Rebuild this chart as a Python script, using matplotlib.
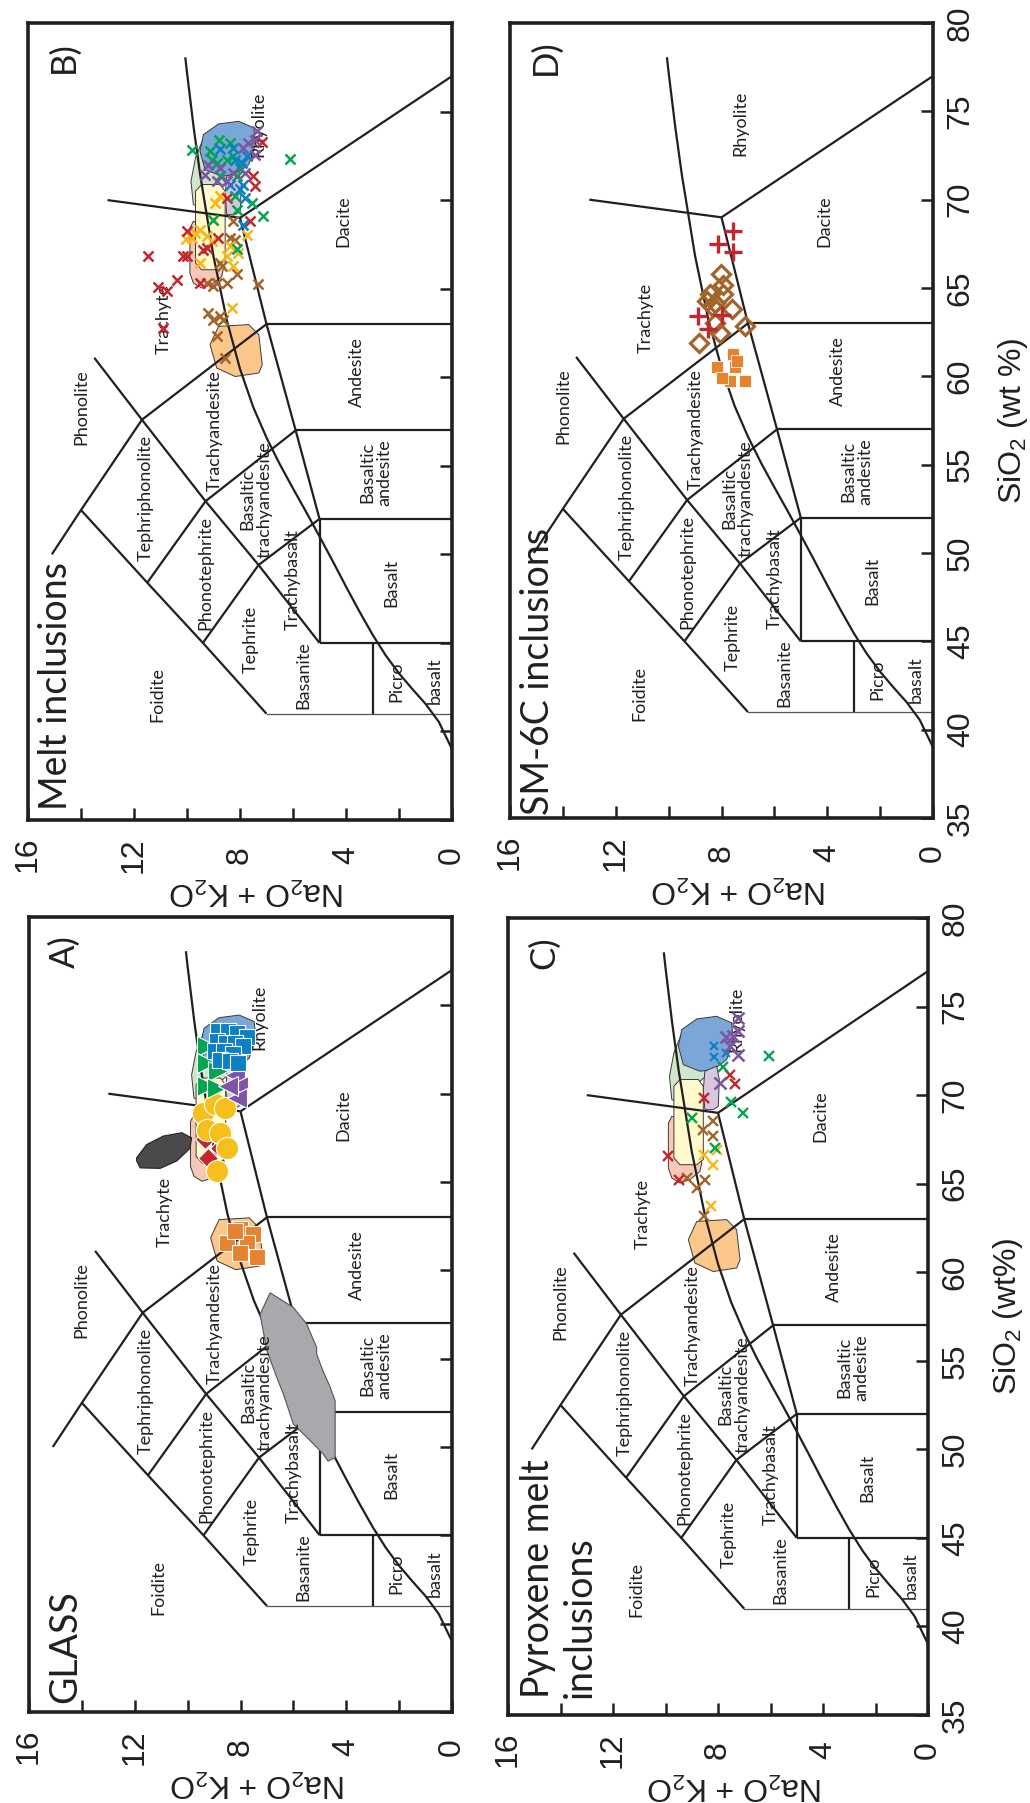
import matplotlib
matplotlib.use("Agg")
import matplotlib.pyplot as plt
from matplotlib import font_manager
from matplotlib.patches import Polygon

# ---------------- fonts ----------------
_names = {f.name for f in font_manager.fontManager.ttflist}
NARROW = "Liberation Sans Narrow" if "Liberation Sans Narrow" in _names else "Liberation Sans"
NARROW_SIZE = 27 if NARROW == "Liberation Sans Narrow" else 23
MAIN = "Lato" if "Lato" in _names else "DejaVu Sans"
plt.rcParams["mathtext.default"] = "regular"

# ---------------- TAS grid (SiO2, Na2O+K2O) ----------------
tas_lines = [
    [(41, 7), (45, 9.4), (48.4, 11.5), (52.5, 14), (50.0, 15.1)],
    [(41, 3), (45, 3)],
    [(45, 0), (45, 5)],
    [(45, 5), (52, 5)],
    [(52, 0), (52, 5)],
    [(52, 5), (57, 5.9), (63, 7), (69, 8)],
    [(57, 0), (57, 5.9)],
    [(63, 0), (63, 7)],
    [(69, 8), (77, 0)],
    [(69, 8), (70, 13)],
    [(45, 5), (49.4, 7.3), (53, 9.3), (57.6, 11.7), (61.1, 13.5)],
    [(49.4, 7.3), (52, 5)],
    [(53, 9.3), (57, 5.9)],
    [(57.6, 11.7), (63, 7)],
    [(52.5, 14), (57.6, 11.7)],
    [(45, 9.4), (49.4, 7.3)],
    [(48.4, 11.5), (53, 9.3)],
]
tas_thin_line = [(41, 0), (41, 7)]
# Irvine & Baragar alkaline / subalkaline divide (SiO2, alkalis)
alkaline_curve = [(39.0, 0), (40.55, 0.5), (41.56, 1), (42.40, 1.5), (43.28, 2), (44.29, 2.5),
                  (45.47, 3), (46.79, 3.5), (48.18, 4), (49.61, 4.5), (51.01, 5), (52.38, 5.5),
                  (53.72, 6), (55.09, 6.5), (56.59, 7), (58.31, 7.5), (60.47, 8), (63.23, 8.5),
                  (66.82, 9), (71.41, 9.5), (74.12, 9.75), (77.2, 10.0), (78.0, 10.06)]

rock_names = ["Foidite", "Picro", "basalt", "Basanite", "Tephrite", "Phonotephrite",
              "Tephriphonolite", "Phonolite", "Trachybasalt", "Basaltic\ntrachyandesite",
              "Trachyandesite", "Trachyte", "Basalt", "Basaltic\nandesite", "Andesite",
              "Dacite", "Rhyolite"]
rock_sio2 = [42.06, 42.8, 42.85, 43.2, 45.2, 48.95, 53.19, 58.3, 48.56, 53.1, 57.0, 63.3,
             48.4, 54.6, 60.3, 68.8, 74.3]
rock_alk = [11.1, 2.1, 0.64, 5.62, 7.58, 9.30, 11.57, 14.0, 6.0, 7.4, 8.96, 10.87,
            2.3, 2.87, 3.58, 4.1, 7.3]

# ---------------- reference fields (SiO2, alkalis) ----------------
field_green = [(73.5, 9.38), (73.7, 8.69), (73.14, 8.3), (71.35, 8.24), (70.78, 8.69), (69.56, 9.45),
               (69.75, 9.76), (71.06, 9.85), (72.38, 9.68)]
field_blue = [(73.7, 9.38), (74.3, 8.81), (74.45, 8.05), (74.08, 7.48), (73.14, 7.42), (72.0, 7.67),
              (71.44, 8.18), (71.35, 8.69), (71.72, 9.32), (72.76, 9.51)]
field_lavender = [(71.35, 8.5), (71.63, 8.05), (70.88, 7.95), (69.37, 7.99), (69.18, 8.18),
                  (69.18, 8.5), (70.31, 8.56)]
field_pink = [(68.8, 9.76), (68.6, 9.2), (66.16, 8.62), (65.69, 8.69), (65.23, 9.07), (65.04, 9.45),
              (65.32, 9.76), (65.88, 9.89), (68.42, 9.89)]
field_yellow = [(70.88, 9.45), (70.88, 8.75), (70.5, 8.56), (66.36, 8.56), (66.07, 8.81),
                (66.07, 9.45), (66.45, 9.68), (70.5, 9.68)]
field_orange = [(62.87, 8.81), (62.97, 7.67), (62.4, 7.29), (60.7, 7.16), (60.24, 7.29),
                (60.04, 8.18), (60.52, 8.88), (61.84, 9.13)]
fields = [(field_green, "#cfe6cd"), (field_blue, "#7ba6d8"), (field_lavender, "#d9c6e1"),
          (field_pink, "#f8c8b7"), (field_yellow, "#fffacc"), (field_orange, "#fbc78b")]

glass_gray_field = [(58.73, 6.88), (57.9, 6.0), (56.97, 5.5), (55.64, 5.12), (55.26, 5.12),
                    (54.3, 4.88), (53.4, 4.61), (52.6, 4.42), (49.4, 4.42), (49.2, 4.69),
                    (49.6, 4.87), (50.37, 5.37), (51.3, 6.0), (53.0, 6.38), (53.94, 6.63),
                    (55.45, 7.0), (57.5, 7.26)]
glass_dark_field = [(66.37, 11.93), (67.12, 11.55), (67.6, 10.92), (67.79, 10.22), (67.5, 9.85),
                    (66.9, 9.91), (66.19, 10.41), (65.77, 11.04), (65.8, 11.8), (66.2, 11.93)]

# ---------------- colours ----------------
RED, YEL, BRN, GRN, BLU, PUR = "#c1272d", "#f7b718", "#a2642a", "#00a651", "#0b80c4", "#7d55a3"
ORG = "#e5832e"

# ---------------- A) GLASS ----------------
A_blue_sio2 = [73.53, 73.57, 73.44, 73.19, 72.97, 72.87, 72.87, 72.68, 72.40, 72.40, 72.25, 71.93, 71.84, 71.74]
A_blue_alk = [8.84, 8.46, 8.14, 7.77, 8.90, 8.55, 8.21, 7.89, 8.96, 8.62, 8.27, 8.77, 8.40, 8.08]
A_green_sio2 = [72.68, 71.74, 71.27, 70.42, 70.33]
A_green_alk = [9.25, 9.25, 8.84, 9.25, 8.90]
A_purple_sio2 = [71.08, 70.42, 69.77, 70.42]
A_purple_alk = [8.21, 8.08, 8.14, 8.46]
A_yellow_sio2 = [68.92, 69.39, 69.2, 67.97, 67.79, 66.94, 65.62]
A_yellow_alk = [9.41, 8.96, 8.6, 9.28, 8.77, 8.52, 8.90]
A_red_sio2 = [66.38, 66.94, 67.41, 67.88]
A_red_alk = [9.22, 8.77, 9.34, 8.96]
A_orange_sio2 = [61.57, 62.33, 62.04, 61.52, 61.0, 60.73, 62.23]
A_orange_alk = [8.52, 8.02, 7.51, 7.77, 8.02, 7.39, 8.21]

# ---------------- B) Melt inclusions ----------------
B_green_sio2 = [72.82, 73.42, 72.76, 72.10, 72.48, 71.82, 71.35, 70.22, 69.84, 69.13, 68.90, 69.43,
                67.24, 72.33, 72.29, 72.29, 71.35, 73.23]
B_green_alk = [9.82, 8.78, 9.13, 8.88, 8.25, 8.00, 8.13, 8.19, 7.56, 7.12, 9.01, 8.10,
               8.13, 6.11, 8.50, 9.07, 8.76, 8.38]
B_blue_sio2 = [72.86, 72.95, 72.48, 72.29, 70.88, 70.60, 70.13, 68.62, 70.88, 72.10]
B_blue_alk = [8.76, 8.25, 7.75, 8.19, 7.87, 8.00, 7.81, 7.87, 8.38, 7.94]
B_purple_sio2 = [73.89, 73.42, 73.23, 72.95, 72.57, 72.01, 71.07, 71.54, 71.82, 71.54, 71.44, 71.07]
B_purple_alk = [7.37, 7.43, 7.69, 7.87, 7.43, 9.19, 8.88, 8.25, 8.76, 7.81, 9.32, 8.50]
B_red_sio2 = [73.27, 71.35, 70.79, 68.81, 70.13, 68.24, 66.87, 66.83, 67.21, 65.51, 65.10, 64.85,
              65.32, 62.78, 67.30, 67.87, 66.83]
B_red_alk = [7.18, 7.50, 7.43, 7.62, 8.50, 10.01, 11.46, 10.01, 9.38, 10.39, 11.08, 10.77,
             9.51, 10.89, 9.26, 8.82, 10.14]
B_yellow_sio2 = [69.81, 68.90, 68.34, 68.15, 67.81, 67.96, 67.68, 67.87, 66.45, 67.40, 66.83, 68.05,
                 66.27, 67.02, 63.91, 70.22]
B_yellow_alk = [8.94, 9.01, 9.51, 9.70, 10.04, 9.26, 9.07, 9.82, 9.51, 8.38, 8.50, 7.75,
                8.25, 8.06, 8.31, 8.76]
B_brown_sio2 = [68.81, 67.87, 67.77, 66.45, 66.27, 65.32, 65.32, 65.14, 65.80, 65.29, 63.63, 63.44,
                63.25, 63.25, 62.31, 61.09, 65.32]
B_brown_alk = [8.25, 8.38, 8.19, 8.76, 8.69, 8.88, 8.50, 9.01, 8.13, 7.31, 9.19, 8.76,
               9.01, 8.63, 8.88, 8.57, 9.26]

# ---------------- C) Pyroxene melt inclusions ----------------
C_purple_sio2 = [74.36, 73.29, 73.36, 73.61, 72.76, 72.29, 70.69]
C_purple_alk = [7.23, 7.70, 7.42, 7.23, 7.54, 7.23, 7.92]
C_blue_sio2 = [72.76, 72.16, 72.35]
C_blue_alk = [8.15, 8.15, 7.70]
C_green_sio2 = [72.19, 71.59, 69.61, 68.99, 68.71, 67.02]
C_green_alk = [6.05, 7.82, 7.52, 7.06, 9.00, 8.11]
C_red_sio2 = [71.16, 70.65, 69.84, 66.58, 65.19]
C_red_alk = [7.54, 7.35, 8.53, 9.89, 9.49]
C_brown_sio2 = [68.56, 68.05, 67.71, 65.32, 65.22, 64.75, 63.15]
C_brown_alk = [8.18, 8.56, 8.18, 9.17, 8.50, 8.81, 8.53]
C_yellow_sio2 = [66.64, 66.92, 66.06, 63.76]
C_yellow_alk = [8.53, 8.03, 8.18, 8.28]

# ---------------- D) SM-6C inclusions ----------------
D_red_sio2 = [68.22, 67.50, 67.05, 63.42, 63.47, 62.66]
D_red_alk = [7.55, 8.12, 7.55, 8.90, 7.99, 8.50]
D_brown_sio2 = [65.77, 65.17, 64.64, 64.17, 64.64, 63.79, 62.47, 63.04, 62.85, 61.91, 63.98, 64.26]
D_brown_alk = [8.02, 7.93, 8.43, 8.25, 7.93, 7.62, 8.06, 8.25, 7.11, 8.85, 8.37, 8.56]
D_orange_sio2 = [61.25, 60.50, 60.50, 59.74, 59.74, 60.87, 59.93]
D_orange_alk = [7.55, 8.18, 7.49, 7.11, 7.68, 7.43, 8.0]

# ---------------- axes ticks ----------------
alk_major = [0, 4, 8, 12, 16]
alk_major_labels = ["0", "4", "8", "12", "16"]
alk_minor = [2, 6, 10, 14]
sio2_ticks = [35, 40, 45, 50, 55, 60, 65, 70, 75, 80]

W, H = 1030, 1803
fig = plt.figure(figsize=(W / 100, H / 100), dpi=100)


def add_ax(l, r, t, b):
    return fig.add_axes([l / W, 1 - b / H, (r - l) / W, (b - t) / H])


def xy(poly):
    return [p[1] for p in poly], [p[0] for p in poly]


def draw_base(ax, show_sio2, with_fields, sio2_label=None):
    ax.set_xlim(16, 0)
    ax.set_ylim(35, 80)
    for s in ax.spines.values():
        s.set_linewidth(2.6)
        s.set_color("#231f20")
        s.set_zorder(10)
    ax.set_xticks(alk_major, labels=alk_major_labels, rotation=90, va="center",
                  fontsize=NARROW_SIZE, fontfamily=NARROW, color="#231f20")
    ax.set_xticks(alk_minor, minor=True)
    ax.tick_params(axis="x", which="both", direction="in", length=9, width=1.8,
                   bottom=True, top=False, pad=25, color="#231f20")
    ax.yaxis.tick_right()
    if show_sio2:
        ax.set_yticks(sio2_ticks, labels=[str(v) for v in sio2_ticks], rotation=90,
                      ha="center", va="center", fontsize=NARROW_SIZE, fontfamily=NARROW,
                      color="#231f20")
    else:
        ax.set_yticks(sio2_ticks)
    ax.tick_params(axis="y", which="both", direction="in", length=9, width=1.8,
                   right=True, left=False, labelright=show_sio2, labelleft=False, pad=20,
                   color="#231f20")
    ax.text(0.54, -0.089, "Na$_2$O + K$_2$O", transform=ax.transAxes, rotation=180,
            ha="center", va="center", fontsize=NARROW_SIZE, fontfamily=NARROW, color="#231f20")
    if sio2_label:
        ax.text(1.19, 0.5, sio2_label, transform=ax.transAxes, rotation=90,
                ha="center", va="center", fontsize=NARROW_SIZE, fontfamily=NARROW,
                color="#231f20")
    if with_fields:
        for poly, col in fields:
            xs, ys = xy(poly)
            ax.add_patch(Polygon(list(zip(xs, ys)), closed=True, facecolor=col,
                                 edgecolor="#3a3a3a", lw=0.7, zorder=1))
    for line in tas_lines:
        xs, ys = xy(line)
        ax.plot(xs, ys, color="#231f20", lw=1.6, zorder=2, solid_capstyle="butt")
    xs, ys = xy(tas_thin_line)
    ax.plot(xs, ys, color="#555555", lw=0.9, zorder=2)
    xs, ys = xy(alkaline_curve)
    ax.plot(xs, ys, color="#231f20", lw=1.6, zorder=2)
    for name, s, a in zip(rock_names, rock_sio2, rock_alk):
        ax.text(a, s, name, rotation=90, ha="center", va="center", multialignment="center",
                fontsize=13, fontfamily=MAIN, color="#231f20", linespacing=1.05, zorder=3)


def panel_text(ax, letter, title, tx, ty, multi=False):
    ax.text(0.085, 0.957, letter, transform=ax.transAxes, rotation=90, ha="center",
            va="center", fontsize=25, fontfamily=MAIN, color="#231f20")
    ax.text(tx, ty, title, transform=ax.transAxes, rotation=90, ha="center", va="bottom",
            multialignment="left", linespacing=1.22, fontsize=27, fontfamily=MAIN,
            color="#231f20", zorder=5)


def crosses(ax, a, s, col, ms=7.5, mew=1.8):
    ax.plot(a, s, ls="none", marker="x", color=col, ms=ms, mew=mew, zorder=4)


# ---------- Panel B ----------
axB = add_ax(28, 452, 23, 820)
draw_base(axB, False, True)
panel_text(axB, "B)", "Melt inclusions", 0.065, 0.012)
crosses(axB, B_brown_alk, B_brown_sio2, BRN)
crosses(axB, B_yellow_alk, B_yellow_sio2, YEL)
crosses(axB, B_red_alk, B_red_sio2, RED)
crosses(axB, B_green_alk, B_green_sio2, GRN)
crosses(axB, B_blue_alk, B_blue_sio2, BLU)
crosses(axB, B_purple_alk, B_purple_sio2, PUR)

# ---------- Panel D ----------
axD = add_ax(510, 933, 23, 818)
draw_base(axD, True, False, "SiO$_2$ (wt %)")
panel_text(axD, "D)", "SM-6C inclusions", 0.066, 0.004)
axD.plot(D_orange_alk, D_orange_sio2, ls="none", marker="s", ms=8, mfc=ORG, mec="white",
         mew=0.6, zorder=4)
axD.plot(D_brown_alk, D_brown_sio2, ls="none", marker="D", ms=9, mfc="none", mec=BRN,
         mew=2.3, zorder=4)
axD.plot(D_red_alk, D_red_sio2, ls="none", marker="+", ms=13, color=RED, mew=2.4, zorder=5)

# ---------- Panel A ----------
axA = add_ax(29, 452, 917, 1712)
draw_base(axA, False, True)
panel_text(axA, "A)", "GLASS", 0.085, 0.011)
for poly, col, ec in [(glass_gray_field, "#a7a9ac", "#555555"), (glass_dark_field, "#4a4a4c", "#222222")]:
    xs, ys = xy(poly)
    axA.add_patch(Polygon(list(zip(xs, ys)), closed=True, facecolor=col, edgecolor=ec,
                          lw=0.8, zorder=2.5))
axA.plot(A_orange_alk, A_orange_sio2, ls="none", marker="s", ms=12, mfc=ORG, mec="white",
         mew=0.8, zorder=4)
axA.plot(A_red_alk, A_red_sio2, ls="none", marker="D", ms=10, mfc=RED, mec="white",
         mew=0.8, zorder=4)
axA.plot(A_yellow_alk, A_yellow_sio2, ls="none", marker="o", ms=16, mfc="#f6c01c", mec="white",
         mew=0.8, zorder=4)
axA.plot(A_green_alk, A_green_sio2, ls="none", marker=">", ms=15, mfc=GRN, mec="white",
         mew=0.8, zorder=4)
axA.plot(A_purple_alk, A_purple_sio2, ls="none", marker="<", ms=15, mfc=PUR, mec="white",
         mew=0.8, zorder=4)
axA.plot(A_blue_alk, A_blue_sio2, ls="none", marker="s", ms=11, mfc=BLU, mec="white",
         mew=0.8, zorder=4)

# ---------- Panel C ----------
axC = add_ax(508, 928, 918, 1715)
draw_base(axC, True, True, "SiO$_2$ (wt%)")
panel_text(axC, "C)", "Pyroxene melt\ninclusions", 0.121, 0.021)
crosses(axC, C_brown_alk, C_brown_sio2, BRN, ms=7, mew=1.7)
crosses(axC, C_yellow_alk, C_yellow_sio2, YEL, ms=7, mew=1.7)
crosses(axC, C_red_alk, C_red_sio2, RED, ms=7, mew=1.7)
crosses(axC, C_green_alk, C_green_sio2, GRN, ms=7, mew=1.7)
crosses(axC, C_blue_alk, C_blue_sio2, BLU, ms=6, mew=1.5)
crosses(axC, C_purple_alk, C_purple_sio2, PUR, ms=8, mew=1.8)

fig.savefig("out.png", dpi=100, facecolor="white")
